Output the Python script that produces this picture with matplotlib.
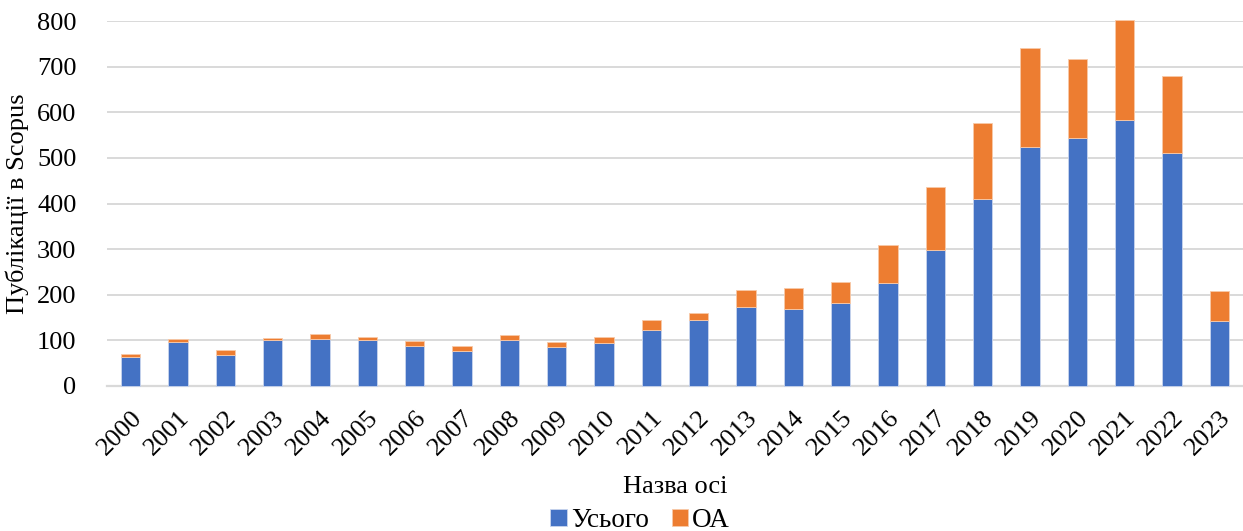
import numpy as np
import matplotlib.pyplot as plt

plt.rcParams['font.family'] = ['Liberation Serif', 'DejaVu Serif']

years = [str(y) for y in range(2000, 2024)]
total = [62, 97, 68, 100, 103, 100, 88, 77, 100, 86, 94, 123,
         145, 173, 169, 181, 226, 299, 409, 523, 544, 584, 510, 142]
oa = [8, 6, 10, 5, 11, 7, 10, 10, 11, 10, 13, 22,
      15, 38, 45, 47, 83, 137, 168, 218, 173, 219, 169, 66]

fig = plt.figure(figsize=(12.43, 5.31), dpi=100)
ax = fig.add_axes([0.0861, 0.2736, 0.9139, 0.6863])

x = np.arange(len(years))
w = 0.41
b1 = ax.bar(x, total, w, color='#4472C4', edgecolor='#c9d5ee', linewidth=0.6,
            label='Усього', zorder=3, clip_on=False)
b2 = ax.bar(x, oa, w, bottom=total, color='#ED7D31', edgecolor='#f8c9a8',
            linewidth=0.6, label='ОА', zorder=3, clip_on=False)

ax.set_xlim(-0.5, len(years) - 0.5)
ax.set_ylim(0, 800)
ax.set_yticks(range(0, 801, 100))
ax.yaxis.grid(True, color='#d9d9d9', linewidth=1.4, zorder=0)
ax.set_axisbelow(True)
for s in ['top', 'right', 'left']:
    ax.spines[s].set_visible(False)
ax.spines['bottom'].set_color('#d9d9d9')
ax.spines['bottom'].set_linewidth(1.6)
ax.tick_params(axis='both', length=0, labelsize=19, colors='black')
ax.tick_params(axis='y', pad=22)
ax.set_xticks(x)
ax.set_xticklabels(years, rotation=45, ha='right', rotation_mode='anchor')
ax.tick_params(axis='x', pad=15)

ax.set_ylabel('Публікації в Scopus', fontsize=19, labelpad=6)
ax.set_xlabel('Назва осі', fontsize=19, labelpad=12)

fig.legend(handles=[b1, b2], loc='lower center', bbox_to_anchor=(0.515, -0.05),
           ncol=2, frameon=False, fontsize=19.5, handlelength=0.6,
           handleheight=0.6, handletextpad=0.15, columnspacing=0.85)

fig.savefig('out.png', dpi=100)
